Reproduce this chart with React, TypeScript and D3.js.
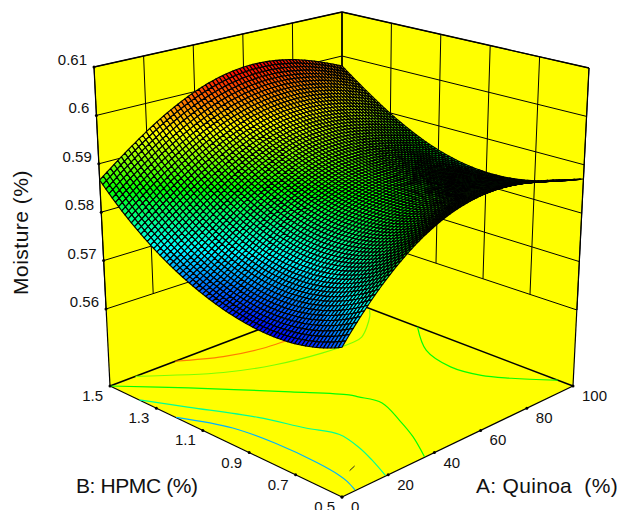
import React, { useEffect, useRef } from 'react';
import * as d3 from 'd3';

// heights at a 5x5 set of stations (edges from the silhouette, inside estimated from the colours)
const quinoaStations = [0, 25, 50, 75, 100];
const hpmcStations = [0.5, 0.75, 1.0, 1.25, 1.5];
const moistureB05 = [0.5726, 0.5859, 0.5916, 0.5912, 0.5878];
const moistureB075 = [0.5692, 0.5795, 0.5860, 0.5865, 0.5837];
const moistureB10 = [0.5710, 0.5800, 0.5868, 0.5870, 0.5839];
const moistureB125 = [0.5769, 0.5860, 0.5920, 0.5925, 0.5889];
const moistureB15 = [0.5874, 0.5969, 0.6022, 0.6020, 0.5974];
const moistureRows = [moistureB05, moistureB075, moistureB10, moistureB125, moistureB15];

const quinoaTicks = [0, 20, 40, 60, 80, 100];
const hpmcTicks = [0.5, 0.7, 0.9, 1.1, 1.3, 1.5];
const moistureTicks = [0.56, 0.57, 0.58, 0.59, 0.6, 0.61];
const moistureFloor = 0.543;
const moistureTop = 0.61;

// colour ramp stops of the surface
const rampLevels = [0.5691, 0.5775, 0.5859, 0.5943, 0.6026];
const rampColours = ['#0000ff', '#00ffff', '#00ff00', '#ffff00', '#ff0000'];

// contours on the floor as [A, B]
const contourLevels = [0.575, 0.581, 0.586, 0.59, 0.5985, 0.586];
const contour0 = [[0, 1.19], [7, 1.02], [9, 0.86], [9, 0.69], [8, 0.59], [7, 0.55], [5, 0.5]];
const contour1 = [[0, 1.36], [7, 1.22], [17, 1.02], [22, 0.87], [26, 0.77], [24, 0.67], [21, 0.59], [17, 0.5]];
const contour2 = [[0, 1.5], [16, 1.32], [36, 1.08], [47, 0.94], [48, 0.91], [50, 0.83], [45, 0.71], [40, 0.61], [33, 0.5]];
const contour3 = [[10, 1.5], [31, 1.33], [46, 1.26], [63, 1.22], [75, 1.21], [81, 1.22], [95, 1.32], [99, 1.36]];
const contour4 = [[26, 1.5], [39, 1.42], [52, 1.38], [63, 1.37], [76, 1.36]];
const contour5 = [[100, 1.15], [88, 1.0], [84, 0.86], [86, 0.75], [91, 0.67], [100, 0.56]];
const contours = [contour0, contour1, contour2, contour3, contour4, contour5];
const stray = [[12, 0.59], [15, 0.6]];

const MESH = 72;

// perspective camera fitted to the box corners
const project = (a: number, b: number, z: number): [number, number] => {
  const u = a / 100;
  const v = b - 0.5;
  const w = (z - moistureFloor) / (moistureTop - moistureFloor);
  const d = 0.1274 * u + 0.1226 * v + 1 - 0.0727 * w;
  return [
    (304 * u - 218.5 * v + 342 - 24.8 * w) / d,
    (-60.8 * u - 62.7 * v + 496 - 362 * w) / d,
  ];
};

// NOTE: the mesh between the read stations is interpolated, it is not read point by point
const lagrange = (xs: number[], ys: number[], x: number) =>
  d3.sum(ys.map((y, i) => {
    let p = y;
    xs.forEach((xj, j) => { if (j !== i) p *= (x - xj) / (xs[i] - xj); });
    return p;
  }));

const moistureAt = (a: number, b: number) =>
  lagrange(hpmcStations, moistureRows.map(row => lagrange(quinoaStations, row, a)), b);

const App = () => {
  const svgRef = useRef<SVGSVGElement>(null);

  useEffect(() => {
    const svg = d3.select(svgRef.current);
    svg.selectAll('*').remove();

    const colour = d3.scaleLinear<string>().domain(rampLevels).range(rampColours).clamp(true);
    const pts = (p: number[][]) => p.map(q => q.join(',')).join(' ');

    // box corners on screen
    const L0 = [110, 386], L1 = [94, 67], L56 = [106, 309];
    const R0 = [573, 386], R1 = [589, 68], R56 = [577, 310];
    const B0 = [342, 298], B1 = [342, 12], B56 = [342, 232];
    const F0 = [342, 497];

    svg.append('polygon').attr('points', pts([L0, L1, B1, B0])).attr('fill', '#ffff00');
    svg.append('polygon').attr('points', pts([R0, R1, B1, B0])).attr('fill', '#ffff00');
    svg.append('polygon').attr('points', pts([L0, F0, R0, B0])).attr('fill', '#ffff00');

    const wall = svg.append('g').attr('stroke', '#000').attr('fill', 'none').attr('stroke-width', 1);
    const seg = (g: any, p: number[], q: number[], w = 1) =>
      g.append('line').attr('x1', p[0]).attr('y1', p[1]).attr('x2', q[0]).attr('y2', q[1]).attr('stroke-width', w);
    const lerp = (p: number[], q: number[], t: number) => [p[0] + (q[0] - p[0]) * t, p[1] + (q[1] - p[1]) * t];

    // wall grid
    const zT = d3.scaleLinear().domain([0.56, 0.61]).range([0, 1]);
    const aT = d3.scaleLinear().domain([0, 100]).range([0, 1]);
    const bT = d3.scaleLinear().domain([0.5, 1.5]).range([0, 1]);
    moistureTicks.forEach(z => {
      const t = zT(z);
      const l = lerp(L56, L1, t), b = lerp(B56, B1, t), r = lerp(R56, R1, t);
      seg(wall, l, b);
      seg(wall, r, b);
    });
    quinoaTicks.forEach(a => {
      const t = aT(a);
      seg(wall, lerp(L56, B56, t), lerp(L1, B1, t));
    });
    hpmcTicks.forEach(b => {
      const t = 1 - bT(b);
      seg(wall, lerp(R56, B56, t), lerp(R1, B1, t));
    });
    seg(wall, L0, L1, 1.2);
    seg(wall, R0, R1, 1.2);
    seg(wall, B0, B1, 1.2);
    seg(wall, L1, B1, 1.4);
    seg(wall, R1, B1, 1.4);
    seg(wall, L0, B0, 1.5);
    seg(wall, R0, B0, 1.5);

    // contours on the floor
    const floorLine = d3.line<number[]>()
      .x(d => project(d[0], d[1], moistureFloor)[0])
      .y(d => project(d[0], d[1], moistureFloor)[1])
      .curve(d3.curveCatmullRom.alpha(0.5));
    contours.forEach((c, i) => {
      svg.append('path').attr('d', floorLine(c)).attr('fill', 'none')
        .attr('stroke', colour(contourLevels[i])).attr('stroke-width', 1.2);
    });
    svg.append('path').attr('d', floorLine(stray)).attr('fill', 'none').attr('stroke', '#222').attr('stroke-width', 1);

    seg(wall, L0, F0, 1.2);
    seg(wall, R0, F0, 1.2);

    // surface, painted from the back corner to the front corner
    const aScale = d3.scaleLinear().domain([0, MESH]).range([0, 100]);
    const bScale = d3.scaleLinear().domain([0, MESH]).range([0.5, 1.5]);
    const grid = d3.range(MESH + 1).map(j => d3.range(MESH + 1).map(i => moistureAt(aScale(i), bScale(j))));
    const cells: { i: number, j: number }[] = [];
    d3.range(MESH).forEach(j => d3.range(MESH).forEach(i => cells.push({ i, j })));
    cells.sort((p, q) => (q.i + q.j) - (p.i + p.j));

    svg.append('g').attr('stroke', '#000').attr('stroke-width', 1.15).attr('stroke-linejoin', 'round')
      .selectAll('polygon').data(cells).join('polygon')
      .attr('points', ({ i, j }) => pts([
        project(aScale(i), bScale(j), grid[j][i]),
        project(aScale(i + 1), bScale(j), grid[j][i + 1]),
        project(aScale(i + 1), bScale(j + 1), grid[j + 1][i + 1]),
        project(aScale(i), bScale(j + 1), grid[j + 1][i]),
      ]))
      .attr('fill', ({ i, j }) => colour((grid[j][i] + grid[j][i + 1] + grid[j + 1][i + 1] + grid[j + 1][i]) / 4));

    // ticks and tick labels
    const dot = (p: number[]) => svg.append('circle').attr('cx', p[0]).attr('cy', p[1]).attr('r', 1.5).attr('fill', '#000');
    const text = svg.append('g').attr('font-family', 'Liberation Sans, Arial, sans-serif').attr('fill', '#111');
    moistureTicks.forEach(z => {
      const p = lerp(L56, L1, zT(z));
      dot(p);
      text.append('text').attr('x', p[0] - 7).attr('y', p[1] - 2).attr('text-anchor', 'end')
        .attr('font-size', 15).text(String(z));
    });
    quinoaTicks.forEach(a => {
      const p = lerp(F0, R0, aT(a));
      dot(p);
      text.append('text').attr('x', p[0] + 9).attr('y', p[1] + 15).attr('font-size', 15).text(String(a));
    });
    hpmcTicks.forEach(b => {
      const p = lerp(F0, L0, bT(b));
      dot(p);
      text.append('text').attr('x', p[0] - 7).attr('y', p[1] + 15).attr('text-anchor', 'end')
        .attr('font-size', 15).text(b.toFixed(1));
    });

    text.append('text').attr('x', 76).attr('y', 493).attr('font-size', 21).attr('letter-spacing', -0.4).text('B: HPMC (%)');
    text.append('text').attr('x', 476).attr('y', 493).attr('font-size', 21).attr('letter-spacing', 0.3)
      .attr('style', 'white-space: pre').text('A: Quinoa  (%)');
    text.append('text').attr('transform', 'translate(28,232.5) rotate(-90)').attr('text-anchor', 'middle')
      .attr('font-size', 21).attr('letter-spacing', 0.5).text('Moisture (%)');
  }, []);

  return (
    <svg ref={svgRef} width={617} height={510} style={{ position: 'absolute', left: 0, top: 0, background: '#fff' }} />
  );
};

export default App;
